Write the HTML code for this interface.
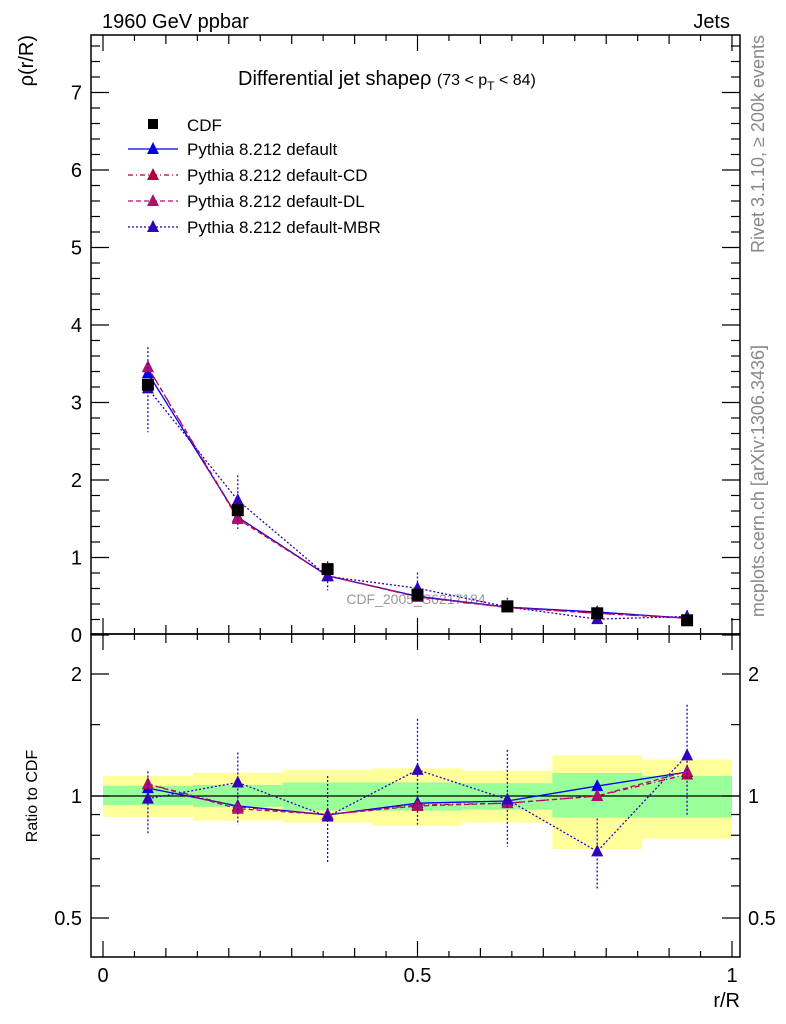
<!DOCTYPE html>
<html><head><meta charset="utf-8"><style>
body{margin:0;background:#fff}
svg{display:block;font-family:"Liberation Sans",sans-serif}
</style></head><body>
<svg id="c" width="786" height="1024" viewBox="0 0 786 1024"></svg>
<script>
const categories=[0.0714,0.2143,0.3571,0.5,0.6429,0.7857,0.9286];
const binEdges=[0,0.1429,0.2857,0.4286,0.5714,0.7143,0.8571,1.0];
const cdfValues=[3.23,1.61,0.85,0.52,0.37,0.28,0.19];
const bandYellowHi=[1.12,1.14,1.16,1.17,1.155,1.26,1.23];
const bandYellowLo=[0.888,0.87,0.86,0.845,0.86,0.74,0.785];
const bandGreenHi=[1.06,1.065,1.08,1.08,1.075,1.14,1.12];
const bandGreenLo=[0.95,0.94,0.92,0.92,0.925,0.885,0.885];
const ratioDefault=[1.046,0.945,0.898,0.96,0.972,1.058,1.146];
const ratioCD=[1.07,0.94,0.90,0.95,0.96,1.00,1.13];
const ratioDL=[1.07,0.93,0.90,0.945,0.96,1.00,1.15];
const ratioMBR=[0.985,1.08,0.89,1.16,0.98,0.73,1.26];
const mbrErrHi=[1.15,1.28,1.12,1.55,1.30,0.88,1.68];
const mbrErrLo=[0.81,0.85,0.68,0.85,0.75,0.59,0.89];
const mainTicks=[0,1,2,3,4,5,6,7];
const ratioTicks=[0.5,1,2];
const xTicks=[0,0.5,1];

const svg=document.getElementById('c');
const NS='http://www.w3.org/2000/svg';
const L=91,R=740,T=35,MB=634,RB=957;
const X=v=>103+629*v;
const YM=v=>635-77.5*v;
const YR=v=>796-122*Math.log2(v);
function el(tag,attrs,name,parent){const e=document.createElementNS(NS,tag);for(const k in attrs)e.setAttribute(k,attrs[k]);


(parent||svg).appendChild(e);return e;}
function txt(x,y,s,size,anchor,name,extra){const t=el('text',Object.assign({x:x,y:y,'font-size':size,'text-anchor':anchor||'start'},extra||{}),name);t.textContent=s;return t;}

const gb=el('g',{},'ratio-bands');
for(let i=0;i<7;i++){
 el('rect',{x:X(binEdges[i]),y:YR(bandYellowHi[i]),width:X(binEdges[i+1])-X(binEdges[i]),height:YR(bandYellowLo[i])-YR(bandYellowHi[i]),fill:'#ffff99'},'band-total',gb);
 el('rect',{x:X(binEdges[i]),y:YR(bandGreenHi[i]),width:X(binEdges[i+1])-X(binEdges[i]),height:YR(bandGreenLo[i])-YR(bandGreenHi[i]),fill:'#99ff99'},'band-stat',gb);
}
el('line',{x1:L,x2:R,y1:YR(1),y2:YR(1),stroke:'#000','stroke-width':1.3},'ratio-unity-line');

el('rect',{x:L,y:T,width:R-L,height:MB-T,fill:'none',stroke:'#000','stroke-width':1.5},'main-frame');
el('rect',{x:L,y:MB,width:R-L,height:RB-MB,fill:'none',stroke:'#000','stroke-width':1.5},'ratio-frame');

for(let k=0;k<=20;k++){const v=k*0.05,x=X(v);const len=k%10==0?16:(k%2==0?9:6);
 for(const [y0,y1] of [[MB,MB-len],[T,T+len],[RB,RB-len],[MB,MB+len]]) el('line',{x1:x,x2:x,y1:y0,y2:y1,stroke:'#000','stroke-width':1.2},'x-tick');}
xTicks.forEach(v=>txt(X(v),982,String(v),20,'middle','x-tick-label'));
txt(740,1007,'r/R',20,'end','x-axis-title');

for(let k=0;k<=38;k++){const v=k*0.2,y=YM(v);if(y<T)continue;const len=k%5==0?18:9;
 el('line',{x1:L,x2:L+len,y1:y,y2:y,stroke:'#000','stroke-width':1.2},'y-tick');
 el('line',{x1:R,x2:R-len,y1:y,y2:y,stroke:'#000','stroke-width':1.2},'y-tick');}
mainTicks.forEach(v=>txt(82,YM(v)+7,String(v),20,'end','y-tick-label'));
[0.5,0.6,0.7,0.8,0.9,1,1.5,2].forEach(v=>{const y=YR(v);const len=(v==0.5||v==1||v==2)?18:9;
 el('line',{x1:L,x2:L+len,y1:y,y2:y,stroke:'#000','stroke-width':1.2},'ratio-tick');
 el('line',{x1:R,x2:R-len,y1:y,y2:y,stroke:'#000','stroke-width':1.2},'ratio-tick');});
ratioTicks.forEach(v=>{txt(82,YR(v)+7,String(v),20,'end','ratio-tick-label');txt(748,YR(v)+7,String(v),20,'start','ratio-tick-label-right');});

txt(33,35,'ρ(r/R)',20,'end','y-axis-title',{transform:'rotate(-90 33 35)'});
txt(37,796,'Ratio to CDF',16,'middle','ratio-axis-title',{transform:'rotate(-90 37 796)'});
txt(102,28,'1960 GeV ppbar',20,'start','header-left');
txt(730,28,'Jets',20,'end','header-right');
txt(764,35,'Rivet 3.1.10, ≥ 200k events',18,'end','rivet-label',{fill:'#888',transform:'rotate(-90 764 35)'});
txt(764,345,'mcplots.cern.ch [arXiv:1306.3436]',18,'end','mcplots-label',{fill:'#888',transform:'rotate(-90 764 345)'});
txt(416,604,'CDF_2005_S6217184',14,'middle','analysis-watermark',{fill:'#999'});
const tt=txt(238,85,'Differential jet shapeρ ',20,'start','plot-title');
const ts=document.createElementNS(NS,'tspan');ts.setAttribute('font-size','16');ts.textContent='(73 < p';tt.appendChild(ts);
const ts2=document.createElementNS(NS,'tspan');ts2.setAttribute('font-size','12');ts2.setAttribute('dy','5');ts2.textContent='T';tt.appendChild(ts2);
const ts3=document.createElementNS(NS,'tspan');ts3.setAttribute('font-size','16');ts3.setAttribute('dy','-5');ts3.textContent=' < 84)';tt.appendChild(ts3);

const series=[
 {name:'default',r:ratioDefault,c:'#0000ee',dash:'',lbl:'Pythia 8.212 default'},
 {name:'cd',r:ratioCD,c:'#b00040',dash:'5,3,1,3',lbl:'Pythia 8.212 default-CD'},
 {name:'dl',r:ratioDL,c:'#b0106a',dash:'5,3',lbl:'Pythia 8.212 default-DL'},
 {name:'mbr',r:ratioMBR,c:'#3300bb',dash:'2,2',lbl:'Pythia 8.212 default-MBR'}];
function tri(x,y,c,name){el('path',{d:`M${x},${y-7}L${x+6},${y+5}L${x-6},${y+5}Z`,fill:c},name);}
series.forEach(s=>{
 const pm=categories.map((v,i)=>[X(v),YM(s.r[i]*cdfValues[i])]);
 const pr=categories.map((v,i)=>[X(v),YR(s.r[i])]);
 el('polyline',{points:pm.map(p=>p.join(',')).join(' '),fill:'none',stroke:s.c,'stroke-width':1.3,'stroke-dasharray':s.dash},'line-'+s.name);
 el('polyline',{points:pr.map(p=>p.join(',')).join(' '),fill:'none',stroke:s.c,'stroke-width':1.3,'stroke-dasharray':s.dash},'ratio-line-'+s.name);
 if(s.name==='mbr'){categories.forEach((v,i)=>{
  el('line',{x1:X(v),x2:X(v),y1:YM(mbrErrHi[i]*cdfValues[i]),y2:YM(mbrErrLo[i]*cdfValues[i]),stroke:s.c,'stroke-width':1.3,'stroke-dasharray':'2,2'},'errbar-mbr');
  el('line',{x1:X(v),x2:X(v),y1:Math.max(YR(mbrErrHi[i]),MB),y2:Math.min(YR(mbrErrLo[i]),RB),stroke:s.c,'stroke-width':1.3,'stroke-dasharray':'2,2'},'ratio-errbar-mbr');});}
 pm.forEach(p=>tri(p[0],p[1],s.c,'point-'+s.name));
 pr.forEach(p=>tri(p[0],p[1],s.c,'ratio-point-'+s.name));
});
categories.forEach((v,i)=>el('rect',{x:X(v)-6,y:YM(cdfValues[i])-6,width:12,height:12,fill:'#000'},'point-cdf'));

const lg=el('g',{},'legend');
el('rect',{x:148,y:119,width:10,height:10,fill:'#000'},'legend-marker-cdf',lg);
txt(187,131,'CDF',17,'start','legend-label-cdf');
series.forEach((s,i)=>{const y=149+26*i;
 el('line',{x1:128,x2:178,y1:y,y2:y,stroke:s.c,'stroke-width':1.3,'stroke-dasharray':s.dash},'legend-line-'+s.name,lg);
 tri(153,y,s.c,'legend-marker-'+s.name);
 txt(187,y+6,s.lbl,17,'start','legend-label-'+s.name);});
</script>
</body></html>
